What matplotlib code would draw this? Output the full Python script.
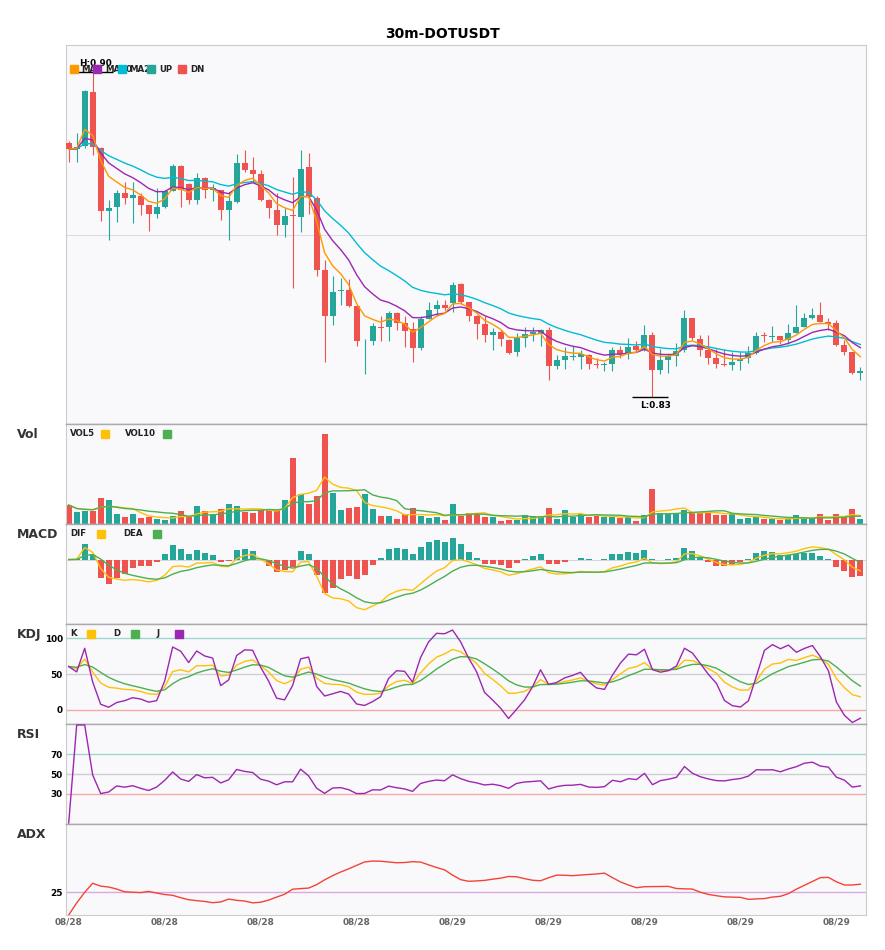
import matplotlib as mpl
mpl.use('Agg')
import matplotlib.pyplot as plt
from matplotlib.patches import Rectangle
import numpy as np
import pandas as pd

symbol = '30m-DOTUSDT'

opens = [0.8857, 0.8846, 0.8851, 0.8960, 0.8847, 0.8721, 0.8729, 0.8757, 0.8747, 0.8752,
         0.8733, 0.8715, 0.8730, 0.8762, 0.8812, 0.8776, 0.8744, 0.8788, 0.8764, 0.8763,
         0.8723, 0.8740, 0.8818, 0.8804, 0.8796, 0.8744, 0.8724, 0.8693, 0.8713, 0.8709,
         0.8809, 0.8748, 0.8603, 0.8512, 0.8561, 0.8564, 0.8531, 0.8461, 0.8462, 0.8490,
         0.8489, 0.8517, 0.8497, 0.8485, 0.8447, 0.8506, 0.8525, 0.8534, 0.8537, 0.8576,
         0.8539, 0.8512, 0.8496, 0.8474, 0.8479, 0.8464, 0.8440, 0.8467, 0.8476, 0.8476,
         0.8483, 0.8411, 0.8424, 0.8429, 0.8429, 0.8434, 0.8416, 0.8413, 0.8416, 0.8443,
         0.8436, 0.8451, 0.8443, 0.8473, 0.8404, 0.8424, 0.8432, 0.8443, 0.8508, 0.8465,
         0.8443, 0.8427, 0.8416, 0.8413, 0.8421, 0.8427, 0.8437, 0.8473, 0.8469, 0.8472,
         0.8463, 0.8477, 0.8489, 0.8508, 0.8514, 0.8500, 0.8497, 0.8454, 0.8439, 0.8398]

highs = [0.8862, 0.8878, 0.8964, 0.9000, 0.8850, 0.8744, 0.8764, 0.8779, 0.8779, 0.8757,
         0.8734, 0.8768, 0.8764, 0.8816, 0.8814, 0.8777, 0.8797, 0.8789, 0.8776, 0.8764,
         0.8760, 0.8836, 0.8843, 0.8830, 0.8803, 0.8746, 0.8757, 0.8727, 0.8789, 0.8844,
         0.8838, 0.8752, 0.8624, 0.8592, 0.8587, 0.8586, 0.8531, 0.8465, 0.8497, 0.8511,
         0.8521, 0.8519, 0.8511, 0.8499, 0.8511, 0.8539, 0.8543, 0.8543, 0.8579, 0.8578,
         0.8540, 0.8514, 0.8511, 0.8487, 0.8484, 0.8465, 0.8477, 0.8489, 0.8489, 0.8485,
         0.8489, 0.8433, 0.8449, 0.8452, 0.8444, 0.8436, 0.8427, 0.8420, 0.8450, 0.8452,
         0.8467, 0.8462, 0.8494, 0.8479, 0.8445, 0.8438, 0.8457, 0.8523, 0.8508, 0.8474,
         0.8474, 0.8445, 0.8445, 0.8440, 0.8439, 0.8452, 0.8479, 0.8479, 0.8491, 0.8472,
         0.8495, 0.8533, 0.8517, 0.8528, 0.8540, 0.8507, 0.8504, 0.8464, 0.8439, 0.8409]

lows = [0.8819, 0.8819, 0.8848, 0.8833, 0.8701, 0.8663, 0.8699, 0.8735, 0.8697, 0.8713,
        0.8681, 0.8708, 0.8728, 0.8762, 0.8729, 0.8736, 0.8736, 0.8747, 0.8741, 0.8704,
        0.8663, 0.8737, 0.8799, 0.8780, 0.8741, 0.8707, 0.8674, 0.8669, 0.8567, 0.8680,
        0.8716, 0.8591, 0.8419, 0.8494, 0.8534, 0.8530, 0.8451, 0.8395, 0.8454, 0.8461,
        0.8461, 0.8484, 0.8449, 0.8419, 0.8443, 0.8506, 0.8512, 0.8524, 0.8519, 0.8536,
        0.8502, 0.8466, 0.8460, 0.8444, 0.8452, 0.8435, 0.8431, 0.8449, 0.8462, 0.8452,
        0.8383, 0.8405, 0.8405, 0.8423, 0.8405, 0.8405, 0.8407, 0.8401, 0.8401, 0.8427,
        0.8425, 0.8440, 0.8442, 0.8349, 0.8395, 0.8397, 0.8412, 0.8440, 0.8464, 0.8431,
        0.8416, 0.8408, 0.8411, 0.8403, 0.8403, 0.8417, 0.8435, 0.8459, 0.8459, 0.8456,
        0.8456, 0.8477, 0.8489, 0.8505, 0.8500, 0.8484, 0.8451, 0.8433, 0.8395, 0.8383]

closes = [0.8845, 0.8849, 0.8961, 0.8849, 0.8721, 0.8728, 0.8757, 0.8747, 0.8754, 0.8733,
          0.8715, 0.8730, 0.8762, 0.8811, 0.8763, 0.8744, 0.8788, 0.8764, 0.8767, 0.8723,
          0.8742, 0.8818, 0.8804, 0.8796, 0.8744, 0.8727, 0.8693, 0.8712, 0.8712, 0.8806,
          0.8750, 0.8603, 0.8512, 0.8560, 0.8564, 0.8531, 0.8461, 0.8462, 0.8491, 0.8488,
          0.8518, 0.8497, 0.8481, 0.8447, 0.8506, 0.8523, 0.8534, 0.8527, 0.8574, 0.8539,
          0.8512, 0.8496, 0.8474, 0.8479, 0.8465, 0.8437, 0.8467, 0.8476, 0.8479, 0.8483,
          0.8411, 0.8424, 0.8431, 0.8432, 0.8436, 0.8416, 0.8413, 0.8416, 0.8444, 0.8435,
          0.8449, 0.8444, 0.8473, 0.8403, 0.8424, 0.8431, 0.8441, 0.8508, 0.8467, 0.8443,
          0.8427, 0.8415, 0.8413, 0.8420, 0.8425, 0.8437, 0.8472, 0.8471, 0.8472, 0.8463,
          0.8477, 0.8489, 0.8508, 0.8514, 0.8500, 0.8496, 0.8454, 0.8439, 0.8397, 0.8402]

volumes = [19, 12, 13, 13, 26, 24, 10, 7, 10, 6, 7, 5, 4, 8, 13, 7, 18, 13, 10, 15,
           20, 18, 12, 11, 14, 14, 14, 24, 66, 30, 20, 28, 90, 31, 14, 16, 17, 30, 15, 8,
           8, 5, 10, 16, 8, 6, 7, 4, 20, 8, 11, 10, 7, 7, 3, 4, 4, 9, 8, 8,
           16, 5, 14, 7, 10, 7, 8, 7, 7, 6, 7, 3, 9, 35, 11, 10, 10, 14, 11, 11,
           12, 9, 9, 10, 5, 6, 7, 5, 5, 4, 5, 9, 6, 6, 10, 4, 10, 8, 15, 5]

date_labels = ['08/28', '08/28', '08/28', '08/28', '08/29', '08/29', '08/29', '08/29', '08/29']
label_step = 12

UP = '#26a69a'
DN = '#ef5350'
C_MA5, C_MA10, C_MA20 = '#ff9800', '#9c27b0', '#00bcd4'
YEL, GRN, PUR = '#ffc107', '#4caf50', '#9c27b0'
BG = '#f9f9fb'

# ---- indicators ----
df = pd.DataFrame({'open': opens, 'high': highs, 'low': lows, 'close': closes, 'vol': volumes})
close = df['close']
ma5 = close.ewm(span=5, adjust=False).mean()
ma10 = close.ewm(span=10, adjust=False).mean()
ma20 = close.ewm(span=20, adjust=False).mean()
vol5 = df['vol'].rolling(5, min_periods=1).mean()
vol10 = df['vol'].rolling(10, min_periods=1).mean()

# short-term MACD settings
dif = close.ewm(span=6, adjust=False).mean() - close.ewm(span=13, adjust=False).mean()
dea = dif.ewm(span=5, adjust=False).mean()
hist = 2 * (dif - dea)

low9 = df['low'].rolling(9, min_periods=1).min()
high9 = df['high'].rolling(9, min_periods=1).max()
rsv = ((close - low9) / (high9 - low9) * 100).fillna(50)
k = rsv.ewm(com=2, adjust=False).mean()
d = k.ewm(com=2, adjust=False).mean()
j = 3 * k - 2 * d

delta = close.diff()
gain = delta.clip(lower=0).ewm(com=13, adjust=True).mean()
loss = (-delta.clip(upper=0)).ewm(com=13, adjust=True).mean()
rsi = (100 - 100 / (1 + gain / loss)).fillna(0)

prev_close = close.shift(1)
tr = pd.concat([df['high'] - df['low'], (df['high'] - prev_close).abs(),
                (df['low'] - prev_close).abs()], axis=1).max(axis=1)
up_move = df['high'].diff()
down_move = -df['low'].diff()
plus_dm = np.where((up_move > down_move) & (up_move > 0), up_move, 0.0)
minus_dm = np.where((down_move > up_move) & (down_move > 0), down_move, 0.0)
atr = tr.ewm(span=14, adjust=False).mean()
plus_di = 100 * pd.Series(plus_dm).ewm(span=14, adjust=False).mean() / atr
minus_di = 100 * pd.Series(minus_dm).ewm(span=14, adjust=False).mean() / atr
dx = (100 * (plus_di - minus_di).abs() / (plus_di + minus_di)).fillna(0)
adx = dx.ewm(span=14, adjust=False).mean()

# ---- layout (pixel based) ----
W, H = 885, 950
LEFT, RIGHT = 65.5, 866


def box(top, bottom):
    return [LEFT / W, 1 - bottom / H, (RIGHT - LEFT) / W, (bottom - top) / H]


def fx(px):
    return px / W


def fy(py):
    return 1 - py / H


fig = plt.figure(figsize=(W / 100, H / 100), dpi=100)
fig.patch.set_facecolor('white')

panels = [(45, 424), (424, 524), (524, 624), (624, 724), (724, 824), (824, 915)]
axes = [fig.add_axes(box(t, b)) for t, b in panels]
ax_main, ax_vol, ax_macd, ax_kdj, ax_rsi, ax_adx = axes

n = len(closes)
x = np.arange(n)
o = np.array(opens)
c = np.array(closes)
hi_arr = np.array(highs)
lo_arr = np.array(lows)
is_up = c >= o
colors = np.where(is_up, UP, DN)

for i, ax in enumerate(axes):
    ax.set_facecolor(BG)
    ax.set_xlim(-0.4, n - 0.3)
    for s in ax.spines.values():
        s.set_color('#cccccc')
        s.set_linewidth(0.8)
    if i > 0:
        ax.spines['top'].set_color('#aaaaaa')
        ax.spines['top'].set_linewidth(1.0)
    if i < len(axes) - 1:
        ax.spines['bottom'].set_color('#aaaaaa')
        ax.spines['bottom'].set_linewidth(1.0)
    ax.tick_params(length=0, labelsize=6.4, pad=2)
    ax.set_xticks(x[::label_step])
    ax.set_xticklabels([])
    ax.set_yticks([])

# main candles
body_bottom = np.minimum(o, c)
body_h = np.maximum(np.abs(c - o), 0.00012)
ax_main.vlines(x, lo_arr, hi_arr, colors=colors, lw=0.8, zorder=2)
ax_main.bar(x, body_h, bottom=body_bottom, width=0.75, color=colors, zorder=3)
ax_main.plot(x, ma20, color=C_MA20, lw=1.0, zorder=4)
ax_main.plot(x, ma10, color=C_MA10, lw=1.0, zorder=4)
ax_main.plot(x, ma5, color=C_MA5, lw=1.0, zorder=4)
pmin, pmax = lo_arr.min(), hi_arr.max()
rng = pmax - pmin
ax_main.set_ylim(pmin - 0.082 * rng, pmax + 0.082 * rng)
mid = (pmin + pmax) / 2
ax_main.axhline(mid, color='#dcdce2', lw=0.8, zorder=1)

ih = int(np.argmax(hi_arr))
il = int(np.argmin(lo_arr))
ax_main.hlines(pmax, ih - 1.8, ih + 2.5, color='black', lw=1.0, zorder=5)
ax_main.annotate(f'H:{pmax:.2f}', xy=(ih + 0.4, pmax), xytext=(0, 2.5), textcoords='offset points',
                 ha='center', va='bottom', fontsize=6.4, fontweight='bold', zorder=5)
ax_main.hlines(pmin, il - 2.5, il + 2.0, color='black', lw=1.0, zorder=5)
ax_main.annotate(f'L:{pmin:.2f}', xy=(il + 0.4, pmin), xytext=(0, -2.5), textcoords='offset points',
                 ha='center', va='top', fontsize=6.4, fontweight='bold', zorder=5)

# volume
ax_vol.bar(x, volumes, width=0.75, color=colors, zorder=2)
ax_vol.plot(x, vol5, color=YEL, lw=1.0, zorder=3)
ax_vol.plot(x, vol10, color=GRN, lw=1.0, zorder=3)
ax_vol.set_ylim(0, max(volumes) * 1.11)

# macd
ax_macd.axhline(0, color='#d0d0d4', lw=0.6, zorder=1)
ax_macd.bar(x, hist, width=0.75, color=np.where(hist >= 0, UP, DN), zorder=2)
ax_macd.plot(x, dif, color=YEL, lw=1.0, zorder=3)
ax_macd.plot(x, dea, color=GRN, lw=1.0, zorder=3)
mlo = min(dif.min(), dea.min(), hist.min())
mhi = max(dif.max(), dea.max(), hist.max())
mpad = (mhi - mlo) * 0.2
ax_macd.set_ylim(mlo - mpad, mhi + mpad)

# kdj
for lvl, col in [(100, '#9ed6d0'), (50, '#cfcfd3'), (0, '#f4a9a9')]:
    ax_kdj.axhline(lvl, color=col, lw=1.0, zorder=1)
ax_kdj.plot(x, k, color=YEL, lw=1.0, zorder=3)
ax_kdj.plot(x, d, color=GRN, lw=1.0, zorder=3)
ax_kdj.plot(x, j, color=PUR, lw=1.0, zorder=3)
ax_kdj.set_ylim(-20, 120)
ax_kdj.set_yticks([0, 50, 100])

# rsi
for lvl, col in [(70, '#9ed6d0'), (50, '#cfcfd3'), (30, '#f4a9a9')]:
    ax_rsi.axhline(lvl, color=col, lw=1.0, zorder=1)
ax_rsi.plot(x, rsi, color=PUR, lw=1.0, zorder=3)
ax_rsi.set_ylim(-1, 101)
ax_rsi.set_yticks([30, 50, 70])

# adx
ax_adx.axhline(25, color='#dba8e2', lw=1.0, zorder=1)
ax_adx.plot(x, adx, color='#f44336', lw=1.0, zorder=3)
ax_adx.set_ylim(0, 100)
ax_adx.set_yticks([25])
ax_adx.set_xticklabels(date_labels, color='#666666', fontweight='bold')

for ax in (ax_kdj, ax_rsi, ax_adx):
    for lab in ax.get_yticklabels():
        lab.set_fontweight('bold')

# titles and legends
fig.text(0.5, fy(34), symbol, ha='center', va='center', fontsize=10, fontweight='bold')

for name, (top, _) in zip(['Vol', 'MACD', 'KDJ', 'RSI', 'ADX'], panels[1:]):
    fig.text(fx(17), fy(top + 10.5), name, ha='left', va='center', fontsize=9,
             fontweight='bold', color='#333333')


def square(px, py, color, size=8):
    fig.add_artist(Rectangle((fx(px), fy(py + size / 2)), size / W, size / H,
                             transform=fig.transFigure, color=color, zorder=10))


main_items = [('MA5', C_MA5, 70, 81), ('MA10', C_MA10, 93, 105), ('MA20', C_MA20, 118, 129),
              ('UP', UP, 147, 159), ('DN', DN, 178, 190)]
for name, col, sx, tx in main_items:
    fig.text(fx(tx), fy(69), name, ha='left', va='center', fontsize=6.2,
             fontweight='bold', color='#222222', zorder=9)
for name, col, sx, tx in main_items:
    square(sx, 69, col)

sub_items = [
    (424, [('VOL5', YEL, 70, 101), ('VOL10', GRN, 125, 163)]),
    (524, [('DIF', YEL, 70, 97), ('DEA', GRN, 123, 153)]),
    (624, [('K', YEL, 70, 87), ('D', GRN, 113, 131), ('J', PUR, 157, 175)]),
]
for top, items in sub_items:
    for name, col, tx, sx in items:
        fig.text(fx(tx), fy(top + 10), name, ha='left', va='center', fontsize=6.2,
                 fontweight='bold', color='#222222')
        square(sx, top + 10, col)

fig.savefig('out.png', dpi=100, facecolor='white')
